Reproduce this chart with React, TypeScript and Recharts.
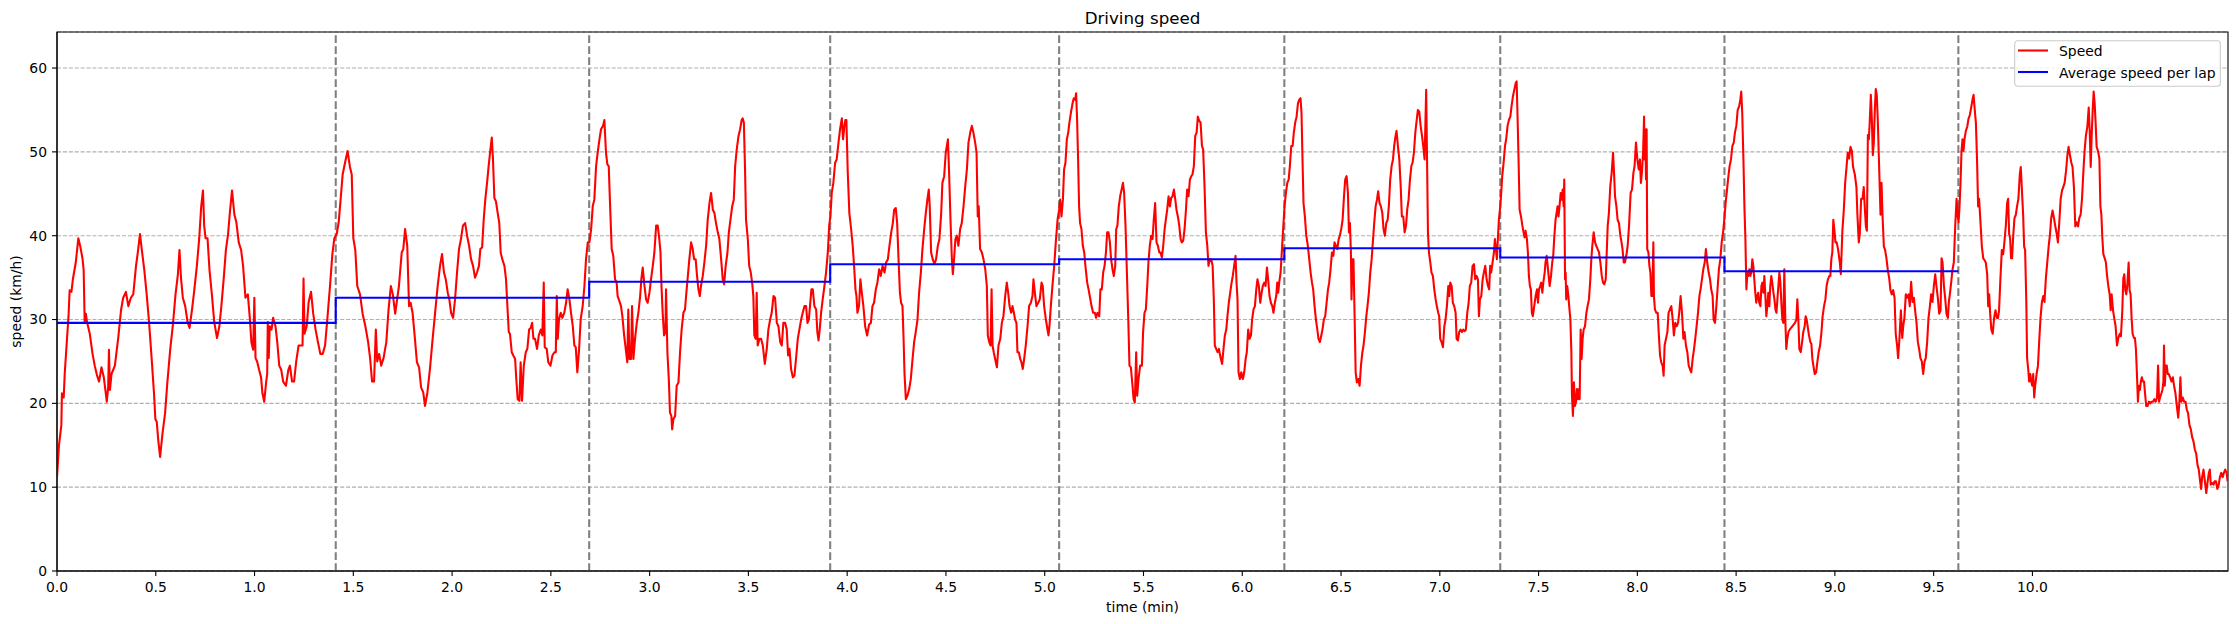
import React from 'react';
import { LineChart, Line, XAxis, YAxis, CartesianGrid, ReferenceLine, ReferenceArea, Legend } from 'recharts';

type Pt = [number, number];

// time (min), speed (km/h)
const speedSegA: Pt[] = [
  [0, 11.2], [0.010, 15.0], [0.022, 17.4], [0.025, 21.2], [0.034, 20.7], [0.039, 23.5], [0.047, 26.4], [0.059, 30.7], [0.064, 33.5], [0.073, 33.3],
  [0.081, 34.9], [0.095, 36.8], [0.108, 39.7], [0.118, 38.7], [0.129, 37.3], [0.135, 35.9], [0.140, 29.7], [0.146, 30.7], [0.152, 29.7], [0.166, 28.3],
  [0.180, 25.9], [0.191, 24.5], [0.203, 23.3], [0.213, 22.6], [0.225, 24.3], [0.237, 23.1], [0.247, 21.2], [0.252, 20.2], [0.259, 21.9], [0.263, 26.4],
  [0.268, 21.6], [0.276, 23.5], [0.293, 24.5], [0.310, 27.8], [0.324, 31.1], [0.335, 32.6], [0.349, 33.3], [0.361, 31.6], [0.374, 32.6], [0.386, 33.0],
  [0.400, 36.4], [0.408, 37.8], [0.420, 40.2], [0.432, 37.8], [0.442, 35.9], [0.454, 33.0], [0.466, 29.7], [0.479, 25.4], [0.491, 21.2], [0.498, 18.1],
  [0.505, 17.8], [0.513, 15.5], [0.522, 13.6], [0.534, 16.4], [0.547, 18.8], [0.559, 22.6], [0.573, 26.4], [0.586, 29.2], [0.600, 33.0], [0.612, 35.4],
  [0.620, 38.3], [0.628, 34.9], [0.637, 32.6], [0.649, 31.6], [0.661, 29.7], [0.671, 29.0], [0.683, 31.1], [0.695, 33.5], [0.708, 36.4], [0.720, 39.7],
  [0.730, 43.5], [0.739, 45.4], [0.745, 41.2], [0.752, 39.7], [0.762, 39.7], [0.772, 35.9], [0.784, 33.0], [0.796, 29.7], [0.810, 27.8], [0.822, 29.2],
  [0.832, 31.6], [0.844, 34.9], [0.855, 38.3], [0.866, 40.2], [0.876, 43.0], [0.886, 45.4], [0.898, 42.5], [0.908, 41.6], [0.920, 39.2], [0.932, 38.3],
  [0.942, 36.4], [0.954, 32.6], [0.966, 33.0], [0.976, 30.2], [0.984, 27.3], [0.993, 26.4], [0.999, 32.6], [1.005, 25.4], [1.013, 25.0], [1.023, 24.0],
  [1.033, 23.1], [1.040, 21.2], [1.049, 20.2], [1.059, 22.6], [1.064, 23.5], [1.067, 29.7], [1.072, 25.4], [1.077, 29.2], [1.086, 28.8], [1.094, 30.2],
  [1.106, 29.2], [1.115, 27.3], [1.125, 24.5], [1.135, 24.0], [1.145, 22.6], [1.159, 22.1], [1.171, 24.0], [1.179, 24.5], [1.190, 22.6], [1.200, 22.6],
  [1.211, 25.0], [1.223, 26.9], [1.235, 26.9], [1.243, 26.9], [1.248, 34.9], [1.253, 28.3], [1.264, 29.2], [1.274, 32.1], [1.286, 33.3], [1.297, 30.7],
  [1.309, 28.8], [1.321, 27.3], [1.333, 25.9], [1.345, 25.9], [1.357, 26.9], [1.369, 30.2], [1.382, 34.0], [1.394, 37.8], [1.404, 39.7], [1.416, 40.2],
  [1.426, 41.6], [1.436, 44.4], [1.446, 47.3], [1.458, 48.7], [1.471, 50.1], [1.483, 48.2], [1.492, 47.3], [1.500, 39.7], [1.510, 38.3], [1.520, 34.0],
  [1.534, 33.0], [1.547, 30.7], [1.561, 29.2], [1.575, 27.3], [1.585, 25.4], [1.595, 22.6], [1.605, 22.6], [1.614, 28.8], [1.621, 25.0], [1.631, 25.9],
  [1.641, 24.5], [1.653, 25.4], [1.667, 27.3], [1.678, 31.1], [1.690, 34.0], [1.700, 33.0], [1.712, 30.7],
];

const speedSegB: Pt[] = [
  [1.731, 34.0], [1.745, 38.0], [1.753, 38.4], [1.762, 40.8], [1.773, 38.8], [1.782, 31.6], [1.790, 32.0], [1.800, 30.8], [1.812, 27.7], [1.822, 24.9],
  [1.833, 24.3], [1.843, 21.9], [1.854, 21.3], [1.863, 19.7], [1.875, 21.3], [1.888, 24.1], [1.900, 27.3], [1.914, 30.8], [1.927, 34.0], [1.939, 36.4],
  [1.949, 37.8], [1.959, 35.6], [1.968, 34.8], [1.978, 33.2], [1.986, 32.4], [1.995, 30.8], [2.005, 30.2], [2.015, 32.4], [2.025, 35.6], [2.035, 38.4],
  [2.045, 39.6], [2.055, 41.2], [2.066, 41.5], [2.076, 40.0], [2.086, 38.8], [2.096, 37.2], [2.106, 36.4], [2.116, 35.0], [2.126, 35.6], [2.136, 36.4],
  [2.143, 38.4], [2.152, 38.6], [2.160, 41.9], [2.168, 44.3], [2.177, 46.3], [2.185, 48.3], [2.194, 50.3], [2.201, 51.7], [2.207, 49.1], [2.214, 44.5],
  [2.222, 44.1], [2.231, 42.7], [2.239, 41.5], [2.246, 38.0], [2.254, 37.2], [2.265, 36.4], [2.273, 34.8], [2.280, 31.6], [2.287, 28.5], [2.293, 28.3],
  [2.302, 26.1], [2.310, 25.7], [2.319, 25.3], [2.325, 22.9], [2.332, 20.5], [2.341, 20.3], [2.347, 24.9], [2.354, 20.3], [2.363, 24.5], [2.373, 26.1],
  [2.381, 26.5], [2.390, 28.8], [2.398, 29.0], [2.405, 29.6], [2.412, 27.7], [2.420, 27.7], [2.430, 26.5], [2.439, 28.1], [2.449, 28.8], [2.457, 28.1],
  [2.464, 34.4], [2.469, 26.7], [2.479, 26.5], [2.487, 24.9], [2.498, 24.5], [2.508, 25.7], [2.518, 26.1], [2.525, 26.1], [2.530, 32.8], [2.535, 27.7],
  [2.541, 30.0], [2.550, 30.8], [2.558, 30.2], [2.568, 30.8], [2.577, 32.0], [2.585, 33.6], [2.594, 32.4], [2.602, 30.8], [2.611, 29.2], [2.619, 26.9],
  [2.626, 26.7], [2.634, 23.7], [2.643, 26.5], [2.651, 30.0], [2.661, 31.6], [2.670, 34.0], [2.678, 37.2], [2.687, 39.2], [2.695, 39.2], [2.704, 40.8],
  [2.712, 43.5], [2.720, 44.3], [2.729, 48.3], [2.737, 49.9], [2.746, 51.5], [2.754, 52.7], [2.764, 53.1], [2.771, 53.8],
];

const speedSegC: Pt[] = [
  [2.779, 49.9], [2.786, 48.5], [2.793, 48.3], [2.800, 43.5], [2.808, 38.4], [2.816, 37.6], [2.825, 34.8], [2.833, 34.4], [2.838, 32.8], [2.847, 32.2],
  [2.855, 31.6], [2.862, 30.4], [2.871, 28.1], [2.879, 26.5], [2.887, 24.9], [2.892, 31.2], [2.898, 25.3], [2.906, 25.3], [2.911, 31.6], [2.918, 25.3],
  [2.926, 27.7], [2.935, 29.6], [2.943, 30.8], [2.952, 32.8], [2.958, 34.8], [2.965, 36.2], [2.974, 34.0], [2.982, 32.4], [2.990, 32.0], [2.999, 33.2],
  [3.007, 34.8], [3.016, 36.4], [3.024, 38.0], [3.033, 41.2], [3.041, 41.2], [3.049, 39.6], [3.055, 38.0], [3.060, 34.0], [3.066, 30.8], [3.073, 28.1],
  [3.080, 28.5], [3.083, 33.6], [3.090, 26.1], [3.097, 22.9], [3.103, 18.9], [3.110, 18.5], [3.114, 16.9], [3.120, 18.1], [3.129, 18.5], [3.137, 22.1],
  [3.146, 22.5], [3.154, 26.1], [3.162, 28.8], [3.171, 30.8], [3.179, 31.2], [3.186, 33.2], [3.195, 35.6], [3.201, 37.2], [3.210, 39.2], [3.218, 38.4],
  [3.225, 37.2], [3.233, 37.2], [3.240, 35.2], [3.247, 33.6], [3.254, 32.8], [3.260, 34.0], [3.269, 35.2], [3.277, 36.8], [3.286, 38.8], [3.294, 41.9],
  [3.303, 43.9], [3.311, 45.1], [3.320, 43.1], [3.328, 42.7], [3.336, 41.5], [3.345, 40.4], [3.353, 39.6], [3.362, 37.2], [3.370, 34.8], [3.377, 34.2],
  [3.385, 36.4], [3.394, 38.0], [3.401, 40.4], [3.409, 41.9], [3.418, 43.5], [3.426, 44.3], [3.433, 48.3], [3.441, 50.3], [3.450, 51.9], [3.458, 52.7],
  [3.466, 53.8], [3.471, 54.0], [3.477, 53.5], [3.483, 47.9], [3.488, 41.9], [3.497, 39.6], [3.504, 36.4], [3.512, 35.6], [3.519, 34.4], [3.525, 32.8],
  [3.530, 28.1], [3.537, 27.7], [3.542, 33.2], [3.547, 26.9], [3.556, 27.7], [3.564, 27.7], [3.573, 26.9], [3.583, 24.7], [3.593, 26.5], [3.601, 28.8],
  [3.610, 30.0], [3.618, 30.8], [3.627, 32.8], [3.635, 32.6], [3.644, 29.6], [3.652, 29.2], [3.661, 27.3], [3.669, 26.9], [3.677, 29.6], [3.686, 29.6],
  [3.694, 28.8], [3.701, 25.7], [3.708, 26.5], [3.716, 24.1], [3.725, 23.1], [3.733, 23.3], [3.741, 25.3], [3.750, 27.7], [3.758, 28.8], [3.767, 30.0],
  [3.775, 30.8], [3.784, 31.6], [3.792, 31.6], [3.799, 29.6], [3.806, 30.0],
];

const speedSegD: Pt[] = [
  [3.819, 33.6], [3.826, 33.6], [3.834, 31.6], [3.843, 31.2], [3.849, 28.5], [3.855, 27.5], [3.861, 28.8], [3.868, 30.8], [3.876, 32.4], [3.885, 34.0],
  [3.893, 35.6], [3.902, 38.0], [3.909, 41.2], [3.915, 42.3], [3.922, 45.1], [3.930, 46.3], [3.939, 48.7], [3.947, 49.1], [3.956, 51.1], [3.964, 52.7],
  [3.973, 54.0], [3.979, 51.5], [3.986, 53.1], [3.991, 53.8], [3.996, 53.8], [4.003, 47.5], [4.011, 42.7], [4.020, 40.8], [4.028, 38.8], [4.035, 36.4],
  [4.042, 33.6], [4.047, 32.8], [4.052, 30.8], [4.060, 31.6], [4.067, 34.8], [4.074, 33.2], [4.082, 31.6], [4.091, 29.2], [4.101, 28.1], [4.111, 29.4],
  [4.120, 29.6], [4.128, 31.6], [4.136, 32.0], [4.145, 33.6], [4.153, 34.4], [4.162, 36.0], [4.170, 35.2], [4.179, 36.4], [4.189, 35.6], [4.197, 36.8],
  [4.206, 37.2], [4.214, 38.8], [4.223, 40.4], [4.231, 41.5], [4.238, 43.1], [4.246, 43.3], [4.253, 41.5], [4.260, 37.2], [4.267, 33.2], [4.273, 32.0],
  [4.280, 31.6], [4.285, 28.1], [4.290, 23.7], [4.297, 20.5], [4.305, 20.9], [4.314, 21.7], [4.322, 22.9], [4.331, 25.3], [4.339, 27.3], [4.347, 28.5],
  [4.356, 30.0], [4.364, 33.2], [4.373, 35.6], [4.381, 38.4], [4.390, 40.8], [4.398, 42.7], [4.406, 44.3], [4.413, 45.5], [4.418, 43.5], [4.425, 38.0],
  [4.433, 37.2], [4.442, 36.6], [4.450, 37.2], [4.459, 38.8], [4.467, 39.6], [4.476, 42.7], [4.482, 46.3], [4.491, 47.1], [4.499, 49.9], [4.510, 51.5],
  [4.516, 47.5], [4.523, 41.9], [4.530, 37.2], [4.535, 35.4], [4.541, 37.2], [4.548, 39.6], [4.555, 40.0], [4.563, 38.8], [4.572, 40.8], [4.580, 41.5],
  [4.589, 43.5], [4.597, 45.7], [4.606, 47.9], [4.614, 51.1], [4.623, 52.3], [4.631, 53.1], [4.639, 52.3], [4.648, 51.1], [4.655, 49.9], [4.661, 42.3],
  [4.666, 43.5], [4.673, 38.4], [4.682, 38.0], [4.690, 37.2], [4.699, 36.0], [4.707, 34.0], [4.712, 28.1], [4.719, 27.3], [4.726, 26.9], [4.731, 33.6],
  [4.736, 26.9], [4.742, 26.1], [4.749, 25.3], [4.758, 24.3], [4.766, 26.9], [4.775, 27.7], [4.783, 29.6], [4.791, 30.4], [4.800, 32.8], [4.808, 34.4],
  [4.815, 33.2], [4.822, 31.6], [4.830, 30.8], [4.837, 31.6], [4.844, 30.8],
];

const speedSegE: Pt[] = [
  [4.850, 30.0], [4.857, 29.6], [4.862, 26.1], [4.869, 26.1], [4.876, 25.3], [4.882, 24.9], [4.889, 24.1], [4.896, 25.3], [4.904, 26.9], [4.913, 29.2],
  [4.921, 31.6], [4.930, 32.0], [4.938, 32.8], [4.943, 34.8], [4.950, 33.2], [4.958, 31.6], [4.967, 32.0], [4.975, 32.4], [4.984, 34.4], [4.990, 34.0],
  [4.997, 31.6], [5.006, 30.0], [5.014, 28.8], [5.019, 28.1], [5.024, 29.2], [5.031, 31.6], [5.039, 34.0], [5.048, 36.4], [5.056, 39.2], [5.065, 41.9],
  [5.073, 43.1], [5.078, 44.3], [5.085, 42.3], [5.092, 44.3], [5.098, 47.9], [5.105, 48.7], [5.112, 51.5], [5.119, 52.3], [5.125, 53.5], [5.132, 54.6],
  [5.141, 55.8], [5.147, 56.4], [5.154, 56.2], [5.159, 57.0], [5.164, 53.8], [5.169, 49.1], [5.174, 43.5], [5.179, 41.5], [5.186, 40.8], [5.193, 38.8],
  [5.200, 38.0], [5.206, 36.4], [5.215, 34.4], [5.222, 33.6], [5.228, 32.8], [5.237, 31.6], [5.245, 30.8], [5.254, 30.8], [5.260, 30.2], [5.267, 30.8],
  [5.276, 30.4], [5.282, 33.6], [5.289, 33.6], [5.296, 35.6], [5.303, 36.4], [5.310, 38.0], [5.316, 40.4], [5.323, 40.4], [5.330, 39.2], [5.336, 37.2],
  [5.343, 36.0], [5.350, 35.2], [5.357, 36.4], [5.362, 40.8], [5.368, 41.2], [5.375, 43.5], [5.382, 44.7], [5.389, 45.5], [5.396, 46.3], [5.402, 45.1],
  [5.409, 41.2], [5.416, 35.6], [5.423, 30.0], [5.429, 24.5], [5.436, 24.3], [5.443, 22.5], [5.450, 20.5], [5.456, 20.1], [5.463, 26.1], [5.468, 20.9],
  [5.475, 22.9], [5.483, 24.5], [5.492, 24.5], [5.498, 28.5], [5.505, 30.8], [5.512, 31.2], [5.519, 34.0], [5.525, 36.8], [5.532, 38.8], [5.539, 40.0],
  [5.546, 39.6], [5.552, 41.9], [5.559, 43.9], [5.566, 39.2], [5.573, 38.8], [5.580, 38.0], [5.586, 38.0], [5.593, 37.4], [5.600, 38.8], [5.607, 40.8],
  [5.613, 41.9], [5.620, 43.1], [5.627, 44.7], [5.634, 43.5], [5.640, 44.5], [5.647, 44.7], [5.654, 45.5], [5.661, 44.3], [5.667, 43.1], [5.674, 42.3],
  [5.681, 41.2], [5.688, 39.6], [5.694, 39.2], [5.701, 39.4], [5.708, 40.8], [5.715, 43.1], [5.721, 45.5], [5.728, 44.7], [5.735, 46.7], [5.742, 47.1],
  [5.748, 47.3], [5.755, 48.3], [5.762, 51.9], [5.769, 52.3], [5.775, 54.2], [5.782, 53.7], [5.789, 53.5], [5.796, 50.7], [5.802, 50.3], [5.809, 45.9],
  [5.816, 40.4], [5.823, 38.8], [5.829, 36.4], [5.836, 37.2], [5.843, 37.2], [5.850, 36.4], [5.856, 32.4], [5.861, 26.9], [5.868, 26.5], [5.875, 26.1],
  [5.882, 26.5], [5.888, 25.7],
];

const speedSegF: Pt[] = [
  [5.892, 25.3], [5.898, 24.7], [5.905, 26.5], [5.912, 28.1], [5.919, 28.8], [5.925, 30.4], [5.932, 32.0], [5.939, 33.2], [5.946, 34.4], [5.952, 35.2],
  [5.959, 36.4], [5.966, 37.6], [5.971, 34.4], [5.976, 32.4], [5.981, 23.7], [5.988, 22.9], [5.995, 23.7], [6.003, 22.9], [6.010, 23.7], [6.017, 25.3],
  [6.023, 26.1], [6.030, 28.8], [6.037, 27.7], [6.044, 28.1], [6.050, 30.0], [6.057, 31.2], [6.064, 31.6], [6.071, 33.6], [6.077, 34.8], [6.084, 34.0],
  [6.091, 32.0], [6.098, 33.2], [6.104, 34.0], [6.111, 34.4], [6.118, 34.0], [6.125, 36.2], [6.131, 34.8], [6.138, 32.8], [6.145, 32.0], [6.152, 31.6],
  [6.158, 30.8], [6.165, 32.0], [6.172, 32.8], [6.177, 34.4], [6.182, 33.2], [6.187, 34.4], [6.194, 35.6], [6.201, 38.4], [6.207, 40.8], [6.214, 43.5],
  [6.221, 45.1], [6.228, 46.3], [6.235, 46.7], [6.241, 48.3], [6.248, 50.7], [6.255, 50.7], [6.261, 52.3], [6.268, 53.5], [6.275, 54.2], [6.282, 55.8],
  [6.288, 56.2], [6.295, 56.4], [6.300, 54.6], [6.305, 49.1], [6.310, 43.9], [6.317, 42.3], [6.324, 40.0], [6.332, 38.8], [6.339, 37.2], [6.346, 35.6],
  [6.353, 34.4], [6.359, 33.6], [6.366, 31.6], [6.373, 30.0], [6.380, 28.8], [6.386, 27.7], [6.393, 27.3], [6.400, 28.1], [6.406, 28.8], [6.413, 30.0],
  [6.420, 30.4], [6.427, 32.0], [6.434, 33.6], [6.440, 34.4], [6.447, 36.0], [6.454, 38.0], [6.461, 37.6], [6.467, 39.2], [6.474, 38.8], [6.481, 38.4],
  [6.488, 39.6], [6.494, 40.0], [6.501, 40.8], [6.508, 41.9], [6.515, 44.7], [6.521, 46.7], [6.528, 47.1], [6.535, 45.1], [6.540, 40.4], [6.545, 41.5],
  [6.550, 38.0], [6.553, 32.4], [6.558, 37.2], [6.563, 37.2], [6.569, 30.0], [6.574, 23.7], [6.580, 22.5], [6.587, 22.9], [6.594, 22.1], [6.601, 24.5],
  [6.608, 26.1], [6.614, 26.9], [6.621, 28.5], [6.628, 30.4], [6.634, 31.6], [6.641, 33.2], [6.648, 35.6], [6.655, 37.2], [6.661, 39.2], [6.668, 41.5],
  [6.675, 43.5], [6.682, 44.3], [6.688, 45.3], [6.695, 43.9], [6.702, 43.5], [6.709, 42.7], [6.715, 40.8], [6.722, 40.0], [6.729, 41.5], [6.736, 41.9],
  [6.742, 43.5], [6.749, 46.7], [6.756, 48.3], [6.763, 49.1], [6.769, 50.7], [6.776, 51.9], [6.781, 52.5], [6.788, 50.7], [6.795, 49.1], [6.802, 45.9],
  [6.808, 42.3], [6.815, 42.3], [6.822, 40.4], [6.829, 41.2], [6.835, 43.1], [6.842, 44.3], [6.849, 46.7], [6.856, 48.3], [6.862, 48.7], [6.869, 49.9],
  [6.876, 52.3], [6.883, 53.8], [6.889, 55.0], [6.896, 54.8], [6.903, 53.1], [6.910, 51.9], [6.916, 50.7], [6.923, 49.1],
];

const speedSegG: Pt[] = [
  [6.931, 57.4], [6.935, 49.9], [6.940, 40.4], [6.945, 38.0], [6.952, 36.8], [6.958, 35.6], [6.965, 35.2], [6.972, 33.6], [6.979, 32.4], [6.985, 31.6],
  [6.992, 30.8], [6.997, 30.4], [7.002, 27.7], [7.009, 27.3], [7.016, 26.7], [7.023, 29.2], [7.029, 30.0], [7.036, 31.6], [7.043, 34.0], [7.048, 32.8],
  [7.053, 34.4], [7.060, 34.0], [7.066, 32.0], [7.073, 31.6], [7.080, 30.8], [7.085, 27.7], [7.092, 27.5], [7.098, 28.5], [7.105, 28.8], [7.112, 28.5],
  [7.119, 28.8], [7.125, 28.6], [7.132, 28.8], [7.139, 30.8], [7.146, 32.0], [7.152, 34.0], [7.159, 34.4], [7.166, 36.4], [7.173, 36.6], [7.179, 34.8],
  [7.186, 35.2], [7.193, 34.8], [7.198, 30.4], [7.203, 32.4], [7.210, 32.8], [7.217, 34.8], [7.223, 35.6], [7.230, 36.4], [7.237, 34.8], [7.244, 34.0],
  [7.250, 33.6], [7.255, 36.4], [7.260, 35.6], [7.267, 36.8], [7.274, 38.0], [7.279, 39.6], [7.284, 38.4], [7.289, 37.2], [7.294, 39.6], [7.299, 41.9],
  [7.306, 43.5], [7.311, 45.1], [7.316, 47.1], [7.323, 48.7], [7.330, 50.7], [7.336, 51.5], [7.343, 53.1], [7.350, 53.8], [7.357, 54.2], [7.363, 55.4],
  [7.370, 56.6], [7.377, 57.4], [7.384, 58.2], [7.389, 58.4], [7.394, 53.8], [7.399, 48.7], [7.404, 43.1], [7.411, 42.3], [7.418, 41.2], [7.424, 40.4],
  [7.429, 39.8], [7.434, 40.6], [7.441, 39.6], [7.446, 38.0], [7.451, 35.2], [7.456, 34.0], [7.461, 33.6], [7.466, 30.8], [7.471, 30.4], [7.478, 31.6],
  [7.485, 32.8], [7.492, 33.6], [7.497, 32.0], [7.502, 33.6], [7.508, 34.0], [7.513, 34.4], [7.519, 33.2], [7.524, 34.4], [7.531, 35.6], [7.535, 36.8],
  [7.541, 37.6], [7.546, 36.4], [7.551, 35.2], [7.556, 34.0], [7.563, 35.2], [7.569, 36.8], [7.574, 37.6], [7.580, 40.0], [7.586, 41.9], [7.591, 42.7],
  [7.596, 43.5], [7.601, 42.3], [7.606, 43.5], [7.612, 45.1], [7.617, 44.3], [7.622, 45.5], [7.627, 43.5], [7.630, 46.7], [7.634, 34.8], [7.637, 35.6],
  [7.640, 32.4], [7.645, 34.0], [7.651, 32.8], [7.655, 31.6], [7.661, 30.0], [7.666, 26.1], [7.669, 20.9], [7.674, 18.5], [7.679, 22.5], [7.684, 19.7],
  [7.689, 20.1], [7.694, 21.7], [7.699, 20.5], [7.704, 21.7], [7.708, 20.5], [7.713, 28.8], [7.718, 25.3], [7.723, 27.7], [7.728, 28.8], [7.735, 29.2],
  [7.742, 30.8], [7.748, 31.6], [7.755, 32.4], [7.762, 34.8], [7.767, 37.2], [7.772, 38.8], [7.779, 40.4], [7.786, 39.2], [7.792, 38.8], [7.799, 38.4],
  [7.806, 38.0], [7.813, 36.8], [7.820, 35.2], [7.826, 34.4], [7.833, 34.2], [7.840, 34.8], [7.845, 38.0], [7.850, 41.2], [7.856, 42.7], [7.863, 45.9],
  [7.870, 47.5], [7.877, 49.9], [7.882, 47.5], [7.887, 44.7], [7.894, 43.5], [7.900, 41.9], [7.907, 41.5], [7.914, 40.0], [7.920, 39.2], [7.925, 38.4],
  [7.931, 36.8], [7.937, 36.8], [7.944, 37.6], [7.951, 38.8], [7.958, 41.2],
];

const speedSegH: Pt[] = [
  [7.966, 45.1], [7.973, 45.5], [7.980, 47.5], [7.986, 48.3], [7.993, 51.1], [8.000, 49.1], [8.007, 47.9], [8.013, 49.1], [8.018, 46.3], [8.023, 47.5],
  [8.029, 49.9], [8.034, 54.2], [8.037, 49.1], [8.040, 52.7], [8.044, 46.7], [8.047, 52.7], [8.050, 38.4], [8.056, 38.0], [8.061, 36.4], [8.066, 35.6],
  [8.071, 32.8], [8.076, 32.8], [8.081, 39.2], [8.084, 32.8], [8.089, 31.2], [8.096, 30.8], [8.103, 30.8], [8.108, 28.5], [8.115, 25.7], [8.121, 24.9],
  [8.128, 24.5], [8.133, 23.3], [8.138, 26.9], [8.145, 27.7], [8.152, 28.5], [8.158, 30.8], [8.165, 31.2], [8.172, 31.6], [8.179, 30.0], [8.185, 28.1],
  [8.192, 29.6], [8.199, 29.2], [8.206, 29.6], [8.212, 30.8], [8.219, 32.8], [8.226, 30.8], [8.233, 27.7], [8.239, 28.5], [8.246, 26.9], [8.253, 26.1],
  [8.260, 24.5], [8.266, 24.1], [8.273, 23.7], [8.280, 25.3], [8.287, 26.5], [8.293, 27.7], [8.300, 29.2], [8.307, 30.8], [8.314, 32.8], [8.320, 33.6],
  [8.327, 34.8], [8.334, 36.0], [8.341, 36.8], [8.347, 38.4], [8.354, 36.8], [8.361, 35.6], [8.368, 34.8], [8.374, 33.6], [8.381, 32.8], [8.386, 30.0],
  [8.393, 29.6], [8.400, 31.6], [8.407, 34.0], [8.413, 36.0], [8.420, 37.2], [8.427, 39.2], [8.434, 40.4], [8.440, 41.9], [8.447, 43.9], [8.454, 45.5],
  [8.461, 47.1], [8.467, 48.3], [8.474, 49.1], [8.481, 50.7], [8.488, 51.1], [8.494, 52.3], [8.501, 53.1], [8.508, 55.0], [8.515, 55.4], [8.521, 56.2],
  [8.526, 57.2], [8.531, 54.6], [8.537, 49.1], [8.542, 43.5], [8.547, 39.6], [8.552, 33.6], [8.557, 35.6], [8.562, 35.2], [8.567, 36.0], [8.572, 35.2],
  [8.577, 35.6], [8.582, 37.2], [8.587, 36.4], [8.592, 34.8], [8.597, 33.2], [8.602, 32.0], [8.607, 32.8], [8.612, 33.2], [8.617, 32.0], [8.623, 31.6],
  [8.628, 34.0], [8.633, 34.4], [8.638, 33.2], [8.643, 35.2], [8.648, 32.8], [8.653, 30.4], [8.658, 31.6], [8.663, 33.2], [8.668, 31.6], [8.673, 34.0],
  [8.678, 35.2], [8.683, 34.4], [8.689, 33.2], [8.694, 32.4], [8.699, 31.2], [8.704, 30.8], [8.709, 32.4], [8.714, 34.0], [8.719, 35.6], [8.724, 34.4],
  [8.729, 32.0], [8.734, 30.0], [8.739, 29.6], [8.744, 36.0], [8.749, 30.0], [8.754, 26.5], [8.759, 27.7], [8.765, 28.5], [8.771, 28.8], [8.778, 29.0],
  [8.785, 29.2], [8.791, 29.4], [8.798, 29.6], [8.805, 30.0], [8.810, 32.4], [8.815, 30.0], [8.820, 26.5], [8.827, 26.1], [8.834, 27.3], [8.840, 28.5],
  [8.847, 29.2], [8.852, 30.4], [8.857, 30.0], [8.862, 29.2], [8.869, 28.1], [8.876, 27.3], [8.881, 27.1], [8.886, 25.3], [8.891, 24.5], [8.898, 23.5],
  [8.905, 23.7], [8.911, 24.9], [8.918, 26.1], [8.925, 26.9], [8.932, 28.5], [8.938, 30.4], [8.945, 31.6], [8.952, 32.4], [8.958, 34.0], [8.965, 34.8],
  [8.972, 35.2], [8.977, 35.2], [8.982, 37.2], [8.987, 38.0], [8.992, 41.9], [8.997, 40.8], [9.003, 39.2], [9.009, 39.2], [9.016, 38.4],
];

const speedSegI: Pt[] = [
  [9.025, 36.8], [9.030, 35.4], [9.038, 40.6], [9.045, 43.0], [9.052, 46.3], [9.059, 48.2], [9.065, 49.9], [9.072, 49.2], [9.079, 50.6], [9.086, 50.1],
  [9.092, 48.2], [9.101, 47.3], [9.109, 45.8], [9.114, 42.5], [9.121, 39.2], [9.126, 40.2], [9.133, 44.4], [9.140, 44.4], [9.146, 45.8], [9.151, 43.5],
  [9.157, 41.1], [9.162, 40.6], [9.167, 52.0], [9.172, 51.5], [9.177, 53.9], [9.182, 56.8], [9.187, 53.9], [9.192, 49.6], [9.197, 51.1], [9.202, 54.9],
  [9.207, 57.5], [9.212, 56.8], [9.217, 53.9], [9.224, 48.2], [9.231, 42.5], [9.236, 46.3], [9.241, 42.5], [9.248, 38.7], [9.254, 38.3], [9.261, 37.3],
  [9.268, 35.9], [9.275, 34.9], [9.281, 33.5], [9.288, 33.0], [9.295, 33.5], [9.302, 32.6], [9.308, 28.3], [9.315, 26.9], [9.320, 25.4], [9.327, 27.8],
  [9.334, 31.1], [9.341, 27.8], [9.346, 29.2], [9.352, 30.2], [9.359, 33.0], [9.366, 32.6], [9.373, 33.0], [9.379, 31.6], [9.386, 34.5], [9.393, 32.1],
  [9.400, 32.6], [9.406, 31.1], [9.413, 29.7], [9.420, 27.3], [9.427, 26.4], [9.433, 25.4], [9.440, 25.0], [9.447, 23.5], [9.454, 25.0], [9.460, 25.4],
  [9.467, 27.3], [9.474, 30.2], [9.481, 31.6], [9.487, 33.0], [9.494, 32.1], [9.501, 34.0], [9.508, 35.4], [9.514, 34.0], [9.521, 32.6], [9.528, 30.7],
  [9.535, 31.1], [9.540, 37.3], [9.545, 36.8], [9.552, 34.0], [9.558, 32.6], [9.565, 30.7], [9.572, 30.2], [9.577, 32.1], [9.582, 33.0], [9.589, 34.5],
  [9.595, 35.9], [9.602, 36.8], [9.609, 41.1], [9.616, 44.4], [9.621, 42.5], [9.626, 41.6], [9.631, 43.5], [9.636, 46.3], [9.641, 50.1], [9.646, 51.5],
  [9.651, 50.1], [9.656, 51.5], [9.663, 52.5], [9.670, 53.0], [9.676, 53.9], [9.683, 54.4], [9.690, 55.3], [9.697, 56.3], [9.702, 56.8], [9.707, 55.3],
  [9.714, 53.4], [9.720, 48.7], [9.725, 43.5], [9.730, 44.4], [9.737, 41.6], [9.744, 38.7], [9.751, 37.3], [9.757, 37.1], [9.764, 36.8], [9.771, 35.4],
  [9.776, 31.6], [9.781, 33.0], [9.786, 30.7], [9.792, 28.8], [9.799, 28.3], [9.806, 30.2], [9.813, 31.1], [9.820, 30.2], [9.826, 30.2], [9.831, 31.1],
  [9.838, 34.9], [9.845, 38.3], [9.852, 37.8], [9.858, 39.2], [9.865, 41.1], [9.872, 43.9], [9.877, 44.4], [9.882, 40.2], [9.887, 39.7], [9.892, 37.3],
  [9.897, 37.3], [9.902, 39.7], [9.909, 42.1], [9.916, 42.5], [9.922, 43.5], [9.929, 44.4], [9.936, 47.3], [9.941, 48.2], [9.946, 45.8], [9.953, 42.5],
  [9.958, 38.7], [9.963, 38.3], [9.969, 32.1], [9.973, 25.4], [9.979, 24.0], [9.983, 22.6], [9.989, 23.5], [9.994, 22.6], [9.999, 22.1], [10.004, 23.5],
  [10.009, 20.7], [10.014, 22.1], [10.021, 23.5], [10.028, 24.5], [10.034, 27.3], [10.041, 30.2], [10.048, 32.1], [10.055, 32.8], [10.061, 32.1], [10.068, 34.9],
  [10.075, 36.8], [10.082, 38.7], [10.089, 40.2], [10.095, 42.1], [10.102, 43.0], [10.109, 42.1], [10.116, 41.1], [10.123, 40.2], [10.129, 39.2], [10.136, 41.6],
  [10.143, 44.4], [10.150, 45.4], [10.156, 45.8], [10.163, 46.3], [10.170, 47.7], [10.177, 49.6], [10.183, 50.6], [10.190, 49.6], [10.197, 48.7], [10.203, 48.2],
  [10.210, 45.8], [10.217, 41.1], [10.224, 41.6], [10.231, 41.1], [10.237, 42.1], [10.244, 42.5], [10.251, 44.4], [10.258, 47.7], [10.264, 50.1], [10.271, 52.0],
  [10.278, 53.0], [10.285, 55.3], [10.290, 52.5], [10.295, 48.2], [10.300, 52.0], [10.305, 54.9], [10.310, 57.2], [10.315, 55.8], [10.320, 53.4], [10.325, 50.6],
  [10.332, 50.1], [10.339, 49.2], [10.344, 43.5], [10.349, 42.5], [10.354, 39.7], [10.359, 37.8], [10.366, 37.3], [10.372, 36.8], [10.377, 35.4], [10.384, 34.0],
  [10.391, 33.0], [10.396, 31.1], [10.401, 33.0], [10.408, 31.1], [10.414, 30.2], [10.421, 29.2], [10.428, 26.9], [10.435, 27.8], [10.442, 28.3], [10.448, 28.0],
  [10.455, 31.1], [10.460, 34.9], [10.465, 35.4], [10.470, 33.5], [10.475, 33.0], [10.480, 34.0], [10.487, 36.8], [10.492, 33.5], [10.497, 33.0], [10.502, 30.2],
  [10.507, 28.3], [10.514, 27.8], [10.519, 27.8], [10.524, 26.4], [10.529, 23.5], [10.534, 20.2], [10.539, 22.1], [10.544, 21.6], [10.549, 22.6], [10.554, 23.1],
  [10.559, 22.6], [10.565, 22.6], [10.570, 21.2], [10.576, 19.7], [10.583, 19.7], [10.590, 20.2], [10.597, 20.0], [10.603, 20.2], [10.610, 20.2], [10.617, 20.5],
  [10.624, 20.2], [10.631, 20.7], [10.636, 24.5], [10.641, 20.2], [10.646, 20.7], [10.653, 21.2], [10.658, 21.6], [10.663, 22.6], [10.666, 26.9], [10.670, 22.1],
  [10.675, 24.5], [10.680, 24.5], [10.685, 23.5], [10.690, 23.5], [10.697, 23.1], [10.704, 22.6], [10.711, 23.1], [10.717, 22.1], [10.724, 21.2], [10.731, 19.7],
  [10.738, 18.3], [10.744, 20.2], [10.749, 23.1], [10.754, 20.2], [10.761, 20.7], [10.768, 20.2], [10.775, 20.2], [10.781, 19.3], [10.788, 18.8], [10.795, 17.4],
  [10.802, 16.9], [10.809, 15.9], [10.815, 15.5], [10.822, 14.5], [10.829, 14.0], [10.836, 12.6], [10.842, 12.1], [10.849, 10.7], [10.854, 9.8], [10.859, 11.2],
  [10.866, 12.1], [10.873, 10.7], [10.880, 9.3], [10.887, 10.7], [10.893, 11.7], [10.898, 12.1], [10.903, 10.3], [10.910, 10.5], [10.917, 10.3], [10.922, 10.7],
  [10.929, 10.7], [10.936, 9.8], [10.943, 10.3], [10.949, 11.2], [10.956, 11.7], [10.963, 11.2], [10.969, 11.7], [10.976, 12.1], [10.983, 11.7], [10.988, 10.7],
];

const lapStarts = [0, 1.411, 2.694, 3.914, 5.073, 6.213, 7.306, 8.441];
const lapEnds = [1.411, 2.694, 3.914, 5.073, 6.213, 7.306, 8.441, 9.625];
const lapAverages = [29.6, 32.6, 34.5, 36.6, 37.2, 38.5, 37.4, 35.75];
const lapMarkers = [1.411, 2.694, 3.914, 5.073, 6.213, 7.306, 8.441, 9.625];

const xTicks = [0, 0.5, 1, 1.5, 2, 2.5, 3, 3.5, 4, 4.5, 5, 5.5, 6, 6.5, 7, 7.5, 8, 8.5, 9, 9.5, 10];
const yTicks = [0, 10, 20, 30, 40, 50, 60];
const xDomain: [number, number] = [0, 10.99];
const yDomain: [number, number] = [0, 64.3];

const legendItems = [
  { label: 'Speed', color: '#ff0000' },
  { label: 'Average speed per lap', color: '#0000ff' },
];

const speedData = [speedSegA, speedSegB, speedSegC, speedSegD, speedSegE, speedSegF, speedSegG, speedSegH, speedSegI]
  .flat()
  .map(([t, v]) => ({ t, v }));

const avgData = lapAverages.flatMap((a, i) => [
  { t: lapStarts[i], v: a },
  { t: lapEnds[i], v: a },
]);

const FONT = 'DejaVu Sans, Liberation Sans, sans-serif';
const W = 2236;
const H = 624;

const LegendBox = () => (
  <svg width={207} height={47} style={{ display: 'block', overflow: 'visible' }}>
    <rect x={0.7} y={0.7} width={205.6} height={45.6} rx={3} ry={3} fill="#ffffff" fillOpacity={0.8} stroke="#cccccc" strokeWidth={1.1} />
    {legendItems.map((it, i) => (
      <g key={it.label}>
        <line x1={4} x2={34} y1={10.5 + i * 21.5} y2={10.5 + i * 21.5} stroke={it.color} strokeWidth={2.08} />
        <text x={45} y={16 + i * 21.5} fontSize={13.9} fontFamily={FONT} fill="#000">{it.label}</text>
      </g>
    ))}
  </svg>
);

export default function App() {
  return (
    <div style={{ position: 'absolute', left: 0, top: 0, width: W, height: H, background: '#fff' }}>
      <LineChart width={W} height={H} margin={{ top: 32, right: 8, bottom: 0, left: 0 }}>
        <CartesianGrid horizontal vertical={false} stroke="#b0b0b0" strokeWidth={1.1} strokeDasharray="4.1 1.8" />
        <XAxis
          dataKey="t"
          type="number"
          domain={xDomain}
          ticks={xTicks}
          allowDataOverflow
          height={53}
          tickFormatter={(v: number) => v.toFixed(1)}
          tick={{ fontSize: 13.9, fontFamily: FONT, fill: '#000' }}
          tickSize={5}
          tickMargin={6.4}
          axisLine={{ stroke: '#000', strokeWidth: 1.1 }}
          tickLine={{ stroke: '#000', strokeWidth: 1.1 }}
        />
        <YAxis
          type="number"
          domain={yDomain}
          ticks={yTicks}
          allowDataOverflow
          width={57}
          tick={{ fontSize: 13.9, fontFamily: FONT, fill: '#000' }}
          tickSize={5}
          tickMargin={5}
          axisLine={{ stroke: '#000', strokeWidth: 1.1 }}
          tickLine={{ stroke: '#000', strokeWidth: 1.1 }}
        />
        {lapMarkers.map((m) => (
          <ReferenceLine key={m} x={m} stroke="#808080" strokeWidth={2.08} strokeDasharray="7.7 3.3" />
        ))}
        <Line
          data={speedData}
          dataKey="v"
          name="Speed"
          stroke="#ff0000"
          strokeWidth={2.08}
          dot={false}
          activeDot={false}
          isAnimationActive={false}
          strokeLinejoin="round"
        />
        <Line
          data={avgData}
          dataKey="v"
          name="Average speed per lap"
          stroke="#0000ff"
          strokeWidth={2.08}
          dot={false}
          activeDot={false}
          isAnimationActive={false}
        />
        <ReferenceArea x1={xDomain[0]} x2={xDomain[1]} y1={yDomain[0]} y2={yDomain[1]} fill="none" fillOpacity={0} stroke="#000" strokeWidth={1.1} ifOverflow="visible" />
        <Legend
          layout="vertical"
          align="center"
          verticalAlign="middle"
          content={() => <LegendBox />}
          wrapperStyle={{ position: 'absolute', left: 2014, top: 39.5, width: 207, height: 47 }}
        />
      </LineChart>
      <svg width={W} height={H} style={{ position: 'absolute', left: 0, top: 0, pointerEvents: 'none' }}>
        <text x={1142.5} y={23.7} textAnchor="middle" fontSize={16.7} fontFamily={FONT} fill="#000">Driving speed</text>
        <text x={1142.5} y={611.7} textAnchor="middle" fontSize={13.9} fontFamily={FONT} fill="#000">time (min)</text>
        <text x={20.7} y={301.5} textAnchor="middle" fontSize={13.9} fontFamily={FONT} fill="#000" transform="rotate(-90 20.7 301.5)">speed (km/h)</text>
      </svg>
    </div>
  );
}
